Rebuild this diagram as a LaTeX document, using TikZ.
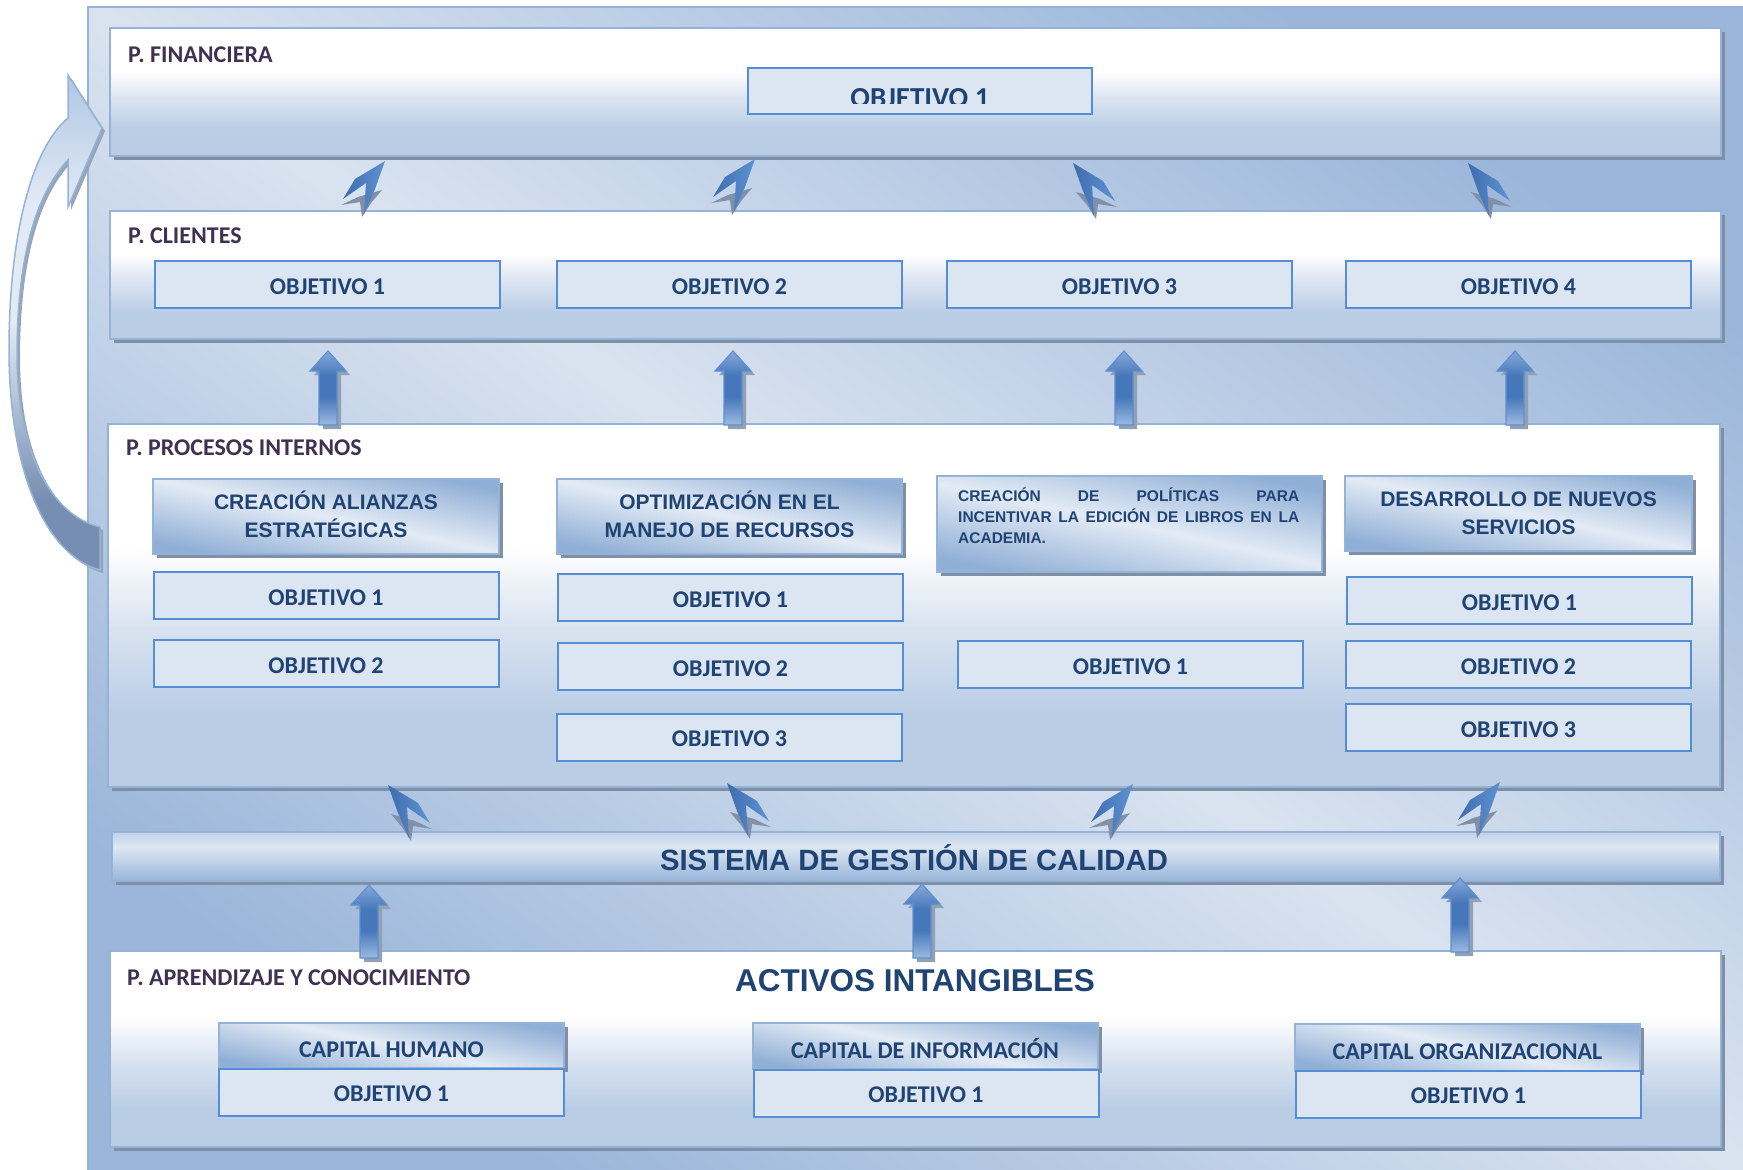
\documentclass[tikz,border=0pt]{standalone}
\usepackage{fontspec}
\setmainfont{Liberation Sans}
\newfontfamily\carl{Carlito}
\usetikzlibrary{shadows}
\definecolor{objF}{HTML}{DCE6F2}
\definecolor{objD}{HTML}{558ED5}
\definecolor{pnlB}{HTML}{B9CDE5}
\definecolor{pnlM}{HTML}{DCE5F1}
\definecolor{pnlD}{HTML}{95B3D7}
\definecolor{shadowc}{HTML}{7F8FA6}
\definecolor{hdrD}{HTML}{90AFD6}
\definecolor{hdrL}{HTML}{E3EBF5}
\definecolor{txtB}{HTML}{1F4373}
\definecolor{ttlC}{HTML}{3F3151}
\definecolor{bgD}{HTML}{9BB6DA}
\definecolor{bgL}{HTML}{D9E3F0}
\definecolor{arrB}{HTML}{4577BA}
\definecolor{arrT}{HTML}{86A9DA}
\definecolor{arrL}{HTML}{9CBAE1}
\definecolor{arrE}{HTML}{5F8FCF}
\definecolor{dartD}{HTML}{3E6DAE}
\definecolor{dartL}{HTML}{5E92D2}
\definecolor{dartS}{HTML}{8190A8}
\definecolor{sgcT}{HTML}{C0D2E9}
\definecolor{sgcL}{HTML}{DEE7F3}
\definecolor{sgcB}{HTML}{98B5DA}
\definecolor{caTop}{HTML}{AFC6E4}
\definecolor{caMid}{HTML}{E2EAF5}
\definecolor{caBot}{HTML}{768EB2}
\pgfdeclareverticalshading{panelsh}{100bp}{color(0bp)=(pnlB); color(35bp)=(pnlB); color(48bp)=(pnlM); color(58bp)=(white); color(100bp)=(white)}
\pgfdeclareverticalshading{sgcsh}{100bp}{color(0bp)=(sgcB); color(25bp)=(sgcB); color(60bp)=(sgcL); color(75bp)=(sgcT); color(100bp)=(sgcT)}
\pgfdeclareverticalshading{curvsh}{100bp}{color(0bp)=(caBot); color(32bp)=(caBot); color(50bp)=(caMid); color(62bp)=(caMid); color(75bp)=(caTop); color(100bp)=(caTop)}
\pgfdeclareverticalshading{upsh}{100bp}{color(0bp)=(arrL); color(25bp)=(arrL); color(44bp)=(arrB); color(58bp)=(arrB); color(75bp)=(arrT); color(100bp)=(arrT)}
\newcommand{\UpArr}[4]{%
  \fill[shadowc!85] ({#2+4},{#3+4}) -- ({#2+22},{#3+24}) -- ({#2+13},{#3+24}) -- ({#2+13},{#4+4}) -- ({#2-5},{#4+4}) -- ({#2-5},{#3+24}) -- ({#2-14},{#3+24}) -- cycle;
  \path[draw=arrE, line width=1.2pt, shade, shading=upsh] (#2,#3) -- ({#2+18},{#3+20}) -- ({#2+9},{#3+20}) -- ({#2+9},#4) -- ({#2-9},#4) -- ({#2-9},{#3+20}) -- ({#2-18},{#3+20}) -- cycle;
  \coordinate (#1) at (#2,#3);
}
\tikzset{
  dartL/.pic={
    \fill[dartS] (3,29) -- (27,36) -- (44,44) -- (25,41) -- (23,56) -- (14,42) -- cycle;
    \shade[left color=dartD, right color=dartL] (0,0) -- (30,18) -- (42,38) -- (19,22) -- (21,53) -- (10,28) -- cycle;
  },
  dartR/.pic={
    \fill[dartS] (-3,29) -- (-27,36) -- (-44,44) -- (-25,41) -- (-23,56) -- (-14,42) -- cycle;
    \shade[left color=dartD, right color=dartL] (0,0) -- (-30,18) -- (-42,38) -- (-19,22) -- (-21,53) -- (-10,28) -- cycle;
  },
  sh/.style={drop shadow={shadow xshift=4pt, shadow yshift=-4pt, fill=shadowc, opacity=1}},
  panel/.style={draw=pnlD, line width=2.5pt, shade, shading=panelsh, inner sep=0pt, sh},
  sgcbar/.style={draw=pnlD, line width=2pt, shade, shading=sgcsh, inner sep=0pt, sh},
  objbox/.style={draw=objD, line width=2pt, fill=objF, minimum width=345pt, minimum height=47pt, inner sep=0pt, text height=19.5pt, text depth=0pt, font=\carl\bfseries\fontsize{24}{28}\selectfont, text=txtB},
  hdrbox/.style={draw=pnlD, line width=2pt, top color=hdrD, bottom color=hdrD, middle color=hdrL, shading angle=-12, inner sep=0pt, sh},
  caphdr/.style={hdrbox, text height=24pt, text depth=0pt, font=\carl\bfseries\fontsize{24}{28}\selectfont, text=txtB},
  ttl/.style={anchor=base west, inner sep=0pt, font=\carl\bfseries\fontsize{24}{28}\selectfont, text=ttlC},
  hdrtxt/.style={anchor=base, inner sep=0pt, font=\bfseries\fontsize{21}{28}\selectfont, text=txtB},
  poltxt/.style={anchor=base west, inner sep=0pt, font=\bfseries\fontsize{15.5}{21}\selectfont, text=txtB},
}
\begin{document}
\begin{tikzpicture}[x=1pt,y=-1pt]
\useasboundingbox (0,0) rectangle (1743,1170);
% background panel
\path[draw=pnlD, line width=2pt, top color=bgD, bottom color=bgD, middle color=bgL, shading angle=-35] (88,7) rectangle (1748,1175);
% curved arrow
\fill[shadowc!80, shift={(3,3)}] (102,128) -- (68,75) -- (68,118) .. controls (30,150) and (9,240) .. (9,350) .. controls (9,470) and (45,555) .. (100,570) -- (100,527) .. controls (50,515) and (17,450) .. (17,355) .. controls (17,260) and (35,195) .. (68,160) -- (68,207) -- cycle;
\path[draw=pnlD, line width=1.5pt, shade, shading=curvsh] (102,128) -- (68,75) -- (68,118) .. controls (30,150) and (9,240) .. (9,350) .. controls (9,470) and (45,555) .. (100,570) -- (100,527) .. controls (50,515) and (17,450) .. (17,355) .. controls (17,260) and (35,195) .. (68,160) -- (68,207) -- cycle;
% panels
\node[panel, minimum width=1611pt, minimum height=128pt] (fin) at (915.5,92) {};
\node[panel, minimum width=1611pt, minimum height=128pt] (cli) at (915.5,275) {};
\node[panel, minimum width=1612pt, minimum height=363pt] (pro) at (914,605.5) {};
\node[sgcbar, minimum width=1608pt, minimum height=49pt] (sgc) at (916,856.5) {};
\node[panel, minimum width=1611pt, minimum height=196pt] (apr) at (915.5,1049) {};
% titles
\node[ttl] (tfin) at (128,62) {P. FINANCIERA};
\node[ttl] (tcli) at (128,243.5) {P. CLIENTES};
\node[ttl] (tpro) at (126,455) {P. PROCESOS INTERNOS};
\node[ttl] (tapr) at (127,985) {P. APRENDIZAJE Y CONOCIMIENTO};
% financiera
\node[objbox, minimum width=344pt, minimum height=46pt] (finO1) at (920,91) {};
\begin{scope}
\clip (748,68) rectangle (1092,103);
\node[anchor=base, inner sep=0pt, font=\carl\bfseries\fontsize{29}{34}\selectfont, text=txtB] (finO1t) at (920,107) {OBJETIVO 1};
\end{scope}
% clientes
\node[objbox] (c1) at (327.5,284.5) {OBJETIVO 1};
\node[objbox] (c2) at (729.5,284.5) {OBJETIVO 2};
\node[objbox] (c3) at (1119.5,284.5) {OBJETIVO 3};
\node[objbox] (c4) at (1518.5,284.5) {OBJETIVO 4};
% procesos col 1
\node[hdrbox, minimum width=346pt, minimum height=75pt] (h1) at (326,516) {};
\node[hdrtxt] (h1a) at (326,509) {CREACIÓN ALIANZAS};
\node[hdrtxt] (h1b) at (326,537) {ESTRATÉGICAS};
\node[objbox] (p11) at (326,595.5) {OBJETIVO 1};
\node[objbox] (p12) at (326,663.5) {OBJETIVO 2};
% col 2
\node[hdrbox, minimum width=345pt, minimum height=75pt] (h2) at (729.5,516.5) {};
\node[hdrtxt] (h2a) at (729.5,509) {OPTIMIZACIÓN EN EL};
\node[hdrtxt] (h2b) at (729.5,537) {MANEJO DE RECURSOS};
\node[objbox] (p21) at (730.5,597.5) {OBJETIVO 1};
\node[objbox] (p22) at (730.5,666.5) {OBJETIVO 2};
\node[objbox] (p23) at (729.5,737) {OBJETIVO 3};
% col 3
\node[hdrbox, minimum width=385pt, minimum height=96pt] (h3) at (1129.5,524) {};
\node[poltxt] (h3a) at (958,501) {\makebox[341pt][l]{CREACIÓN\hfill DE\hfill POLÍTICAS\hfill PARA}};
\node[poltxt] (h3b) at (958,522) {\makebox[341pt][s]{INCENTIVAR LA EDICIÓN DE LIBROS EN LA}};
\node[poltxt] (h3c) at (958,543) {ACADEMIA.};
\node[objbox] (p31) at (1130.5,664.5) {OBJETIVO 1};
% col 4
\node[hdrbox, minimum width=347pt, minimum height=75pt] (h4) at (1518.5,513) {};
\node[hdrtxt] (h4a) at (1518.5,506) {DESARROLLO DE NUEVOS};
\node[hdrtxt] (h4b) at (1518.5,534) {SERVICIOS};
\node[objbox] (p41) at (1519.5,600.5) {OBJETIVO 1};
\node[objbox] (p42) at (1518.5,664.5) {OBJETIVO 2};
\node[objbox] (p43) at (1518.5,727.5) {OBJETIVO 3};
% SGC
\node[anchor=base, inner sep=0pt, font=\bfseries\fontsize{29.3}{34}\selectfont, text=txtB] (sgct) at (914,870) {SISTEMA DE GESTIÓN DE CALIDAD};
% aprendizaje
\node[anchor=base, inner sep=0pt, font=\bfseries\fontsize{31.5}{36}\selectfont, text=txtB] (act) at (915,991) {ACTIVOS INTANGIBLES};
\node[caphdr, minimum width=345pt, minimum height=45pt] (k1) at (391.5,1045.5) {CAPITAL HUMANO};
\node[objbox] (k1o) at (391.5,1092) {OBJETIVO 1};
\node[caphdr, minimum width=345pt, minimum height=46pt] (k2) at (925,1046) {CAPITAL DE INFORMACIÓN};
\node[objbox] (k2o) at (926,1093) {OBJETIVO 1};
\node[caphdr, minimum width=345pt, minimum height=47pt] (k3) at (1467.5,1047) {CAPITAL ORGANIZACIONAL};
\node[objbox] (k3o) at (1468.5,1094) {OBJETIVO 1};
% darts between financiera and clientes
\pic (d1) at (385,161) {dartR};
\pic (d2) at (755,159) {dartR};
\pic (d3) at (1073,163) {dartL};
\pic (d4) at (1468,163) {dartL};
% darts between procesos and SGC
\pic (e1) at (388,785) {dartL};
\pic (e2) at (727,783) {dartL};
\pic (e3) at (1133,784) {dartR};
\pic (e4) at (1500,782) {dartR};
% block arrows
\UpArr{u1}{328}{351}{425}
\UpArr{u2}{733}{351}{425}
\UpArr{u3}{1124}{351}{425}
\UpArr{u4}{1515}{351}{425}
\UpArr{v1}{369}{885}{958}
\UpArr{v2}{922}{884}{958}
\UpArr{v3}{1460}{878}{952}
\end{tikzpicture}
\end{document}
